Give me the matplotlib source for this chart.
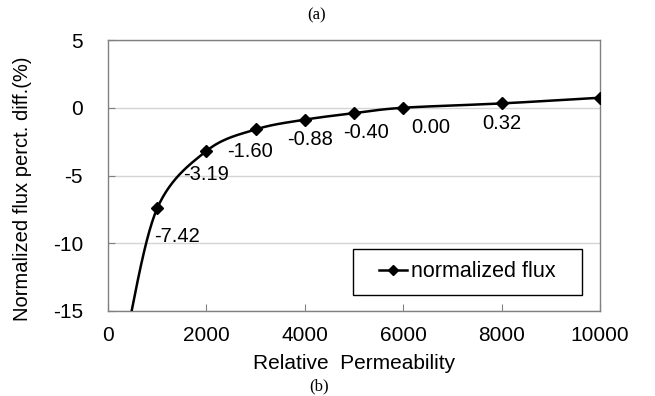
import numpy as np
import matplotlib
matplotlib.use("Agg")
import matplotlib.pyplot as plt
from matplotlib.patches import Rectangle

# data (first point lies below the visible range)
permeability = [400, 1000, 2000, 3000, 4000, 5000, 6000, 8000, 10000]
flux_diff = [-16.4, -7.42, -3.19, -1.60, -0.88, -0.40, 0.00, 0.32, 0.74]
label_idx = [1, 2, 3, 4, 5, 6, 7]
label_text = ["-7.42", "-3.19", "-1.60", "-0.88", "-0.40", "0.00", "0.32"]
label_offsets = [(20, -28), (0, -24), (-6, -22), (5, -20), (12, -19), (28, -20), (0, -20)]
x_ticks = [0, 2000, 4000, 6000, 8000, 10000]
y_ticks = [-15, -10, -5, 0, 5]


def smooth(xs, ys, n=30):
    # uniform Catmull-Rom through the points, like Excel's smoothed line
    p = np.column_stack([xs, ys]).astype(float)
    p = np.vstack([p[0], p, p[-1]])
    out = []
    t = np.linspace(0, 1, n)[:, None]
    for i in range(1, len(p) - 2):
        p0, p1, p2, p3 = p[i - 1], p[i], p[i + 1], p[i + 2]
        seg = 0.5 * ((2 * p1) + (-p0 + p2) * t + (2 * p0 - 5 * p1 + 4 * p2 - p3) * t**2
                     + (-p0 + 3 * p1 - 3 * p2 + p3) * t**3)
        out.append(seg)
    out = np.vstack(out)
    return out[:, 0], out[:, 1]


plt.rcParams["font.family"] = ["Liberation Sans", "DejaVu Sans"]
plt.rcParams["axes.unicode_minus"] = False

fig = plt.figure(figsize=(6.55, 3.96), dpi=100)
ax = fig.add_axes([108 / 655, 85 / 396, 492 / 655, 271 / 396])

sx, sy = smooth(permeability, flux_diff)
ax.plot(sx, sy, color="black", lw=1.8, zorder=3)
ax.plot(permeability, flux_diff, ls="none", marker="D", ms=6, color="black", zorder=4)

for i, txt, off in zip(label_idx, label_text, label_offsets):
    ax.annotate(txt, (permeability[i], flux_diff[i]), xytext=off,
                textcoords="offset pixels", ha="center", va="center", fontsize=14.5)

ax.set_xlim(0, 10000)
ax.set_ylim(-15, 5)
ax.set_xticks(x_ticks)
ax.set_yticks(y_ticks)
ax.tick_params(axis="both", direction="in", length=5, color="#808080", labelsize=15)
ax.tick_params(axis="y", pad=18)
ax.tick_params(axis="x", pad=11)
ax.yaxis.grid(True, color="#d4d4d4", lw=1)
ax.set_axisbelow(True)
for s in ax.spines.values():
    s.set_color("#808080")
    s.set_linewidth(1)

ax.set_xlabel("Relative  Permeability", fontsize=15)
ax.xaxis.set_label_coords(0.5, -0.192)
ax.get_xaxis().label.set_va("center")
ax.set_ylabel("Normalized flux perct. diff.(%)", fontsize=14.5)
ax.yaxis.set_label_coords(-0.173, 0.45)
ax.get_yaxis().label.set_va("center")

# legend box
ax.add_patch(Rectangle((0.498, 0.059), 0.465, 0.17, transform=ax.transAxes,
                       fill=True, facecolor="white", edgecolor="black", lw=1, zorder=5))
leg = ax.legend([ax.lines[0]], ["normalized flux"], loc="center", bbox_to_anchor=(0.73, 0.144),
                frameon=False, fontsize=15.5, handlelength=1.3, handletextpad=0.2)
leg.legend_handles[0].set_marker("D")
leg.legend_handles[0].set_markersize(5)
leg.set_zorder(6)

serif = ["Liberation Serif", "DejaVu Serif"]
fig.text(317 / 655, 1 - 15 / 396, "(a)", family=serif, fontsize=12, ha="center", va="center")
fig.text(319 / 655, 1 - 386 / 396, "(b)", family=serif, fontsize=12, ha="center", va="center")

fig.savefig("out.png", dpi=100)
